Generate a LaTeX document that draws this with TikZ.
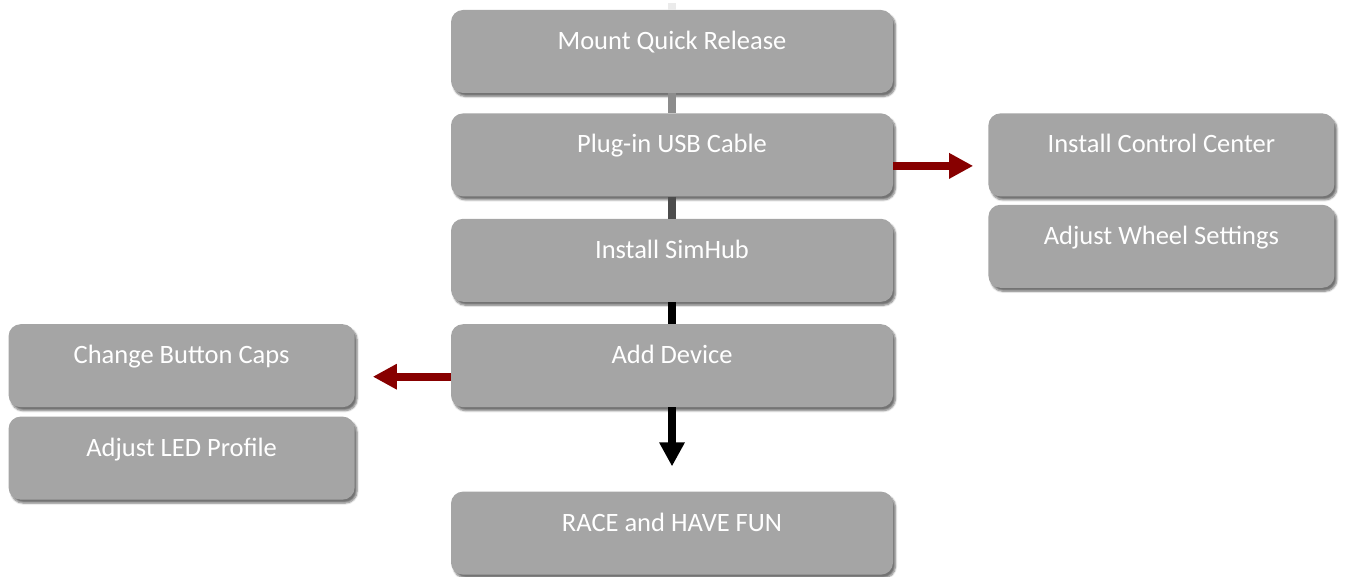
\documentclass[tikz,border=0pt]{standalone}
\usepackage{fontspec}
\setmainfont{Carlito}
\usetikzlibrary{positioning, arrows.meta, shadows.blur}

\definecolor{boxgray}{RGB}{165,165,165}
\definecolor{arrowred}{RGB}{135,0,0}

\begin{document}
\begin{tikzpicture}[x=1pt, y=1pt,
block/.style={rectangle, rounded corners=12pt, fill=boxgray, text=white,
    font=\fontsize{26.5}{30}\selectfont, text height=18pt, text depth=22pt,
    minimum height=83pt, inner sep=0pt,
    blur shadow={shadow xshift=2.5pt, shadow yshift=-3.5pt, shadow blur steps=6, shadow opacity=55}},
block-main/.style={block, minimum width=442pt},
block-side/.style={block, minimum width=346pt},
spine/.style={draw, line width=8pt},
side-arrow/.style={draw=arrowred, line width=8pt, -{Triangle[width=24pt,length=24pt]}},
down-arrow/.style={draw=black, line width=8pt, -{Triangle[width=24pt,length=24pt]}}
]
\useasboundingbox (0,0) rectangle (1348,-577);

\coordinate (spine-top) at (672,-3);
\node [block-main] (mount) at (672,-51.5) {Mount Quick Release};
\node [block-main, below=20pt of mount] (usb) {Plug-in USB Cable};
\node [block-main, below=22pt of usb] (simhub) {Install SimHub};
\node [block-main, below=22pt of simhub] (device) {Add Device};
\node [block-main, below=84pt of device] (race) {RACE and HAVE FUN};

\node [block-side, right=95pt of usb] (control) {Install Control Center};
\node [block-side, below=8pt of control] (wheel) {Adjust Wheel Settings};
\node [block-side, left=96pt of device] (caps) {Change Button Caps};
\node [block-side, below=9pt of caps] (led) {Adjust LED Profile};

\path [spine, draw=black!8] (spine-top) -- (mount);
\path [spine, draw=black!45] (mount) -- (usb);
\path [spine, draw=black!70] (usb) -- (simhub);
\path [spine, draw=black] (simhub) -- (device);

\path [side-arrow] ([yshift=-11pt]usb.east) -- ([xshift=-15pt, yshift=-11pt]control.west);
\path [side-arrow] ([yshift=-11pt]device.west) -- ([xshift=18pt, yshift=-11pt]caps.east);
\path [down-arrow, shorten >=25pt] (device) -- (race);
\end{tikzpicture}
\end{document}
